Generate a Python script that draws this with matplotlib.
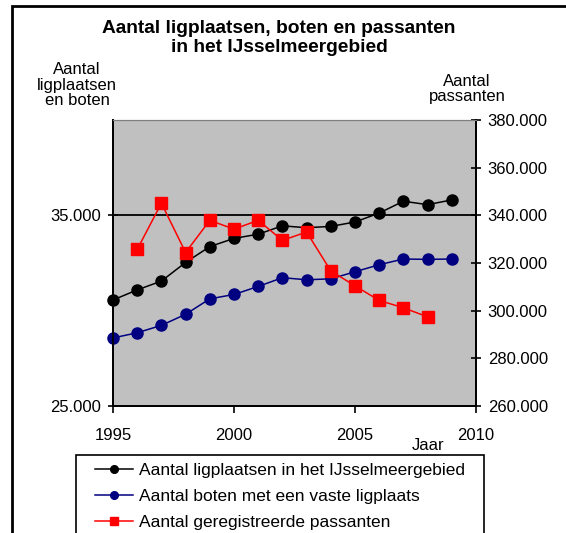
import matplotlib
matplotlib.use("Agg")
import matplotlib.pyplot as plt
from matplotlib.patches import Rectangle
from matplotlib.lines import Line2D
from matplotlib.ticker import FuncFormatter, MultipleLocator, FixedLocator

plt.rcParams['font.family'] = ['Liberation Sans', 'DejaVu Sans']

years = [1995, 1996, 1997, 1998, 1999, 2000, 2001, 2002, 2003, 2004, 2005, 2006, 2007, 2008, 2009]
ligplaatsen = [30560, 31090, 31550, 32530, 33360, 33790, 34010, 34450, 34350, 34420, 34650, 35120, 35740, 35560, 35810]
boten = [28570, 28840, 29230, 29810, 30620, 30850, 31270, 31730, 31620, 31670, 32040, 32410, 32710, 32690, 32710]
pass_years = [1996, 1997, 1998, 1999, 2000, 2001, 2002, 2003, 2004, 2005, 2006, 2007, 2008]
passanten = [325700, 345100, 324400, 337900, 334200, 337900, 329500, 333000, 316700, 310400, 304300, 301200, 297400]
left_ticks = [25000, 35000]

labels = ["Aantal ligplaatsen in het IJsselmeergebied",
          "Aantal boten met een vaste ligplaats",
          "Aantal geregistreerde passanten"]

W, H = 566, 533
fig = plt.figure(figsize=(W/100, H/100), dpi=100)

def fx(px):
    return px / W

def fy(py):
    return 1 - py / H

# outer chart border
fig.patches.append(Rectangle((fx(12), fy(600)), fx(700), fy(6) - fy(600),
                             transform=fig.transFigure, fill=False,
                             edgecolor='black', linewidth=2, clip_on=False))

ax = fig.add_axes([fx(113), fy(406), fx(476) - fx(113), fy(120) - fy(406)])
ax.set_facecolor('#C0C0C0')
ax2 = ax.twinx()

ax.set_xlim(1995, 2010)
ax.set_ylim(25000, 40000)
ax2.set_ylim(260000, 380000)

ax.axhline(35000, color='black', linewidth=1.3, zorder=1)

ax.plot(years, ligplaatsen, color='black', marker='o', markersize=8, linewidth=1.1,
        label=labels[0], clip_on=False, zorder=3)
ax.plot(years, boten, color='#000080', marker='o', markersize=8, linewidth=1.1,
        label=labels[1], clip_on=False, zorder=3)
ax2.plot(pass_years, passanten, color='#FF0000', marker='s', markersize=8, linewidth=1.1,
         label=labels[2], clip_on=False, zorder=3)

fmt = FuncFormatter(lambda v, p: f"{int(round(v)):,}".replace(",", "."))
ax.yaxis.set_major_locator(FixedLocator(left_ticks))
ax.yaxis.set_major_formatter(fmt)
ax2.yaxis.set_major_locator(MultipleLocator(20000))
ax2.yaxis.set_major_formatter(fmt)
ax.xaxis.set_major_locator(MultipleLocator(5))

for a in (ax, ax2):
    for s in a.spines.values():
        s.set_linewidth(1.3)
    a.spines['top'].set_color('#808080')
    a.spines['top'].set_linewidth(0.8)

ax.tick_params(axis='y', direction='inout', length=7, width=1.2, labelsize=12, pad=5)
ax2.tick_params(axis='y', direction='inout', length=7, width=1.2, labelsize=12, pad=5)
ax.tick_params(axis='x', direction='out', length=5, width=1.2, labelsize=12, pad=11)

fig.text(fx(279), fy(38), "Aantal ligplaatsen, boten en passanten\nin het IJsselmeergebied",
         ha='center', va='center', fontsize=13.8, fontweight='bold', linespacing=1.15)
fig.text(fx(77), fy(85), "Aantal\nligplaatsen\nen boten", ha='center', va='center',
         fontsize=12, linespacing=1.05)
fig.text(fx(467), fy(89), "Aantal\npassanten", ha='center', va='center',
         fontsize=12, linespacing=1.05)
fig.text(fx(428), fy(445), "Jaar", ha='center', va='center', fontsize=12)

# legend box
fig.patches.append(Rectangle((fx(76), fy(600)), fx(484) - fx(76), fy(455) - fy(600),
                             transform=fig.transFigure, fill=False,
                             edgecolor='black', linewidth=1.2, clip_on=False))
handles = [Line2D([], [], color='black', marker='o', markersize=5.5, linewidth=1.1),
           Line2D([], [], color='#000080', marker='o', markersize=5.5, linewidth=1.1),
           Line2D([], [], color='#FF0000', marker='s', markersize=5.5, linewidth=1.1)]
fig.legend(handles, labels, loc='upper left', bbox_to_anchor=(fx(95), fy(463)),
           frameon=False, fontsize=12.5, handlelength=2.2, handletextpad=0.35,
           labelspacing=0.62, borderpad=0.0, borderaxespad=0.0)

fig.savefig("out.png", dpi=100)
